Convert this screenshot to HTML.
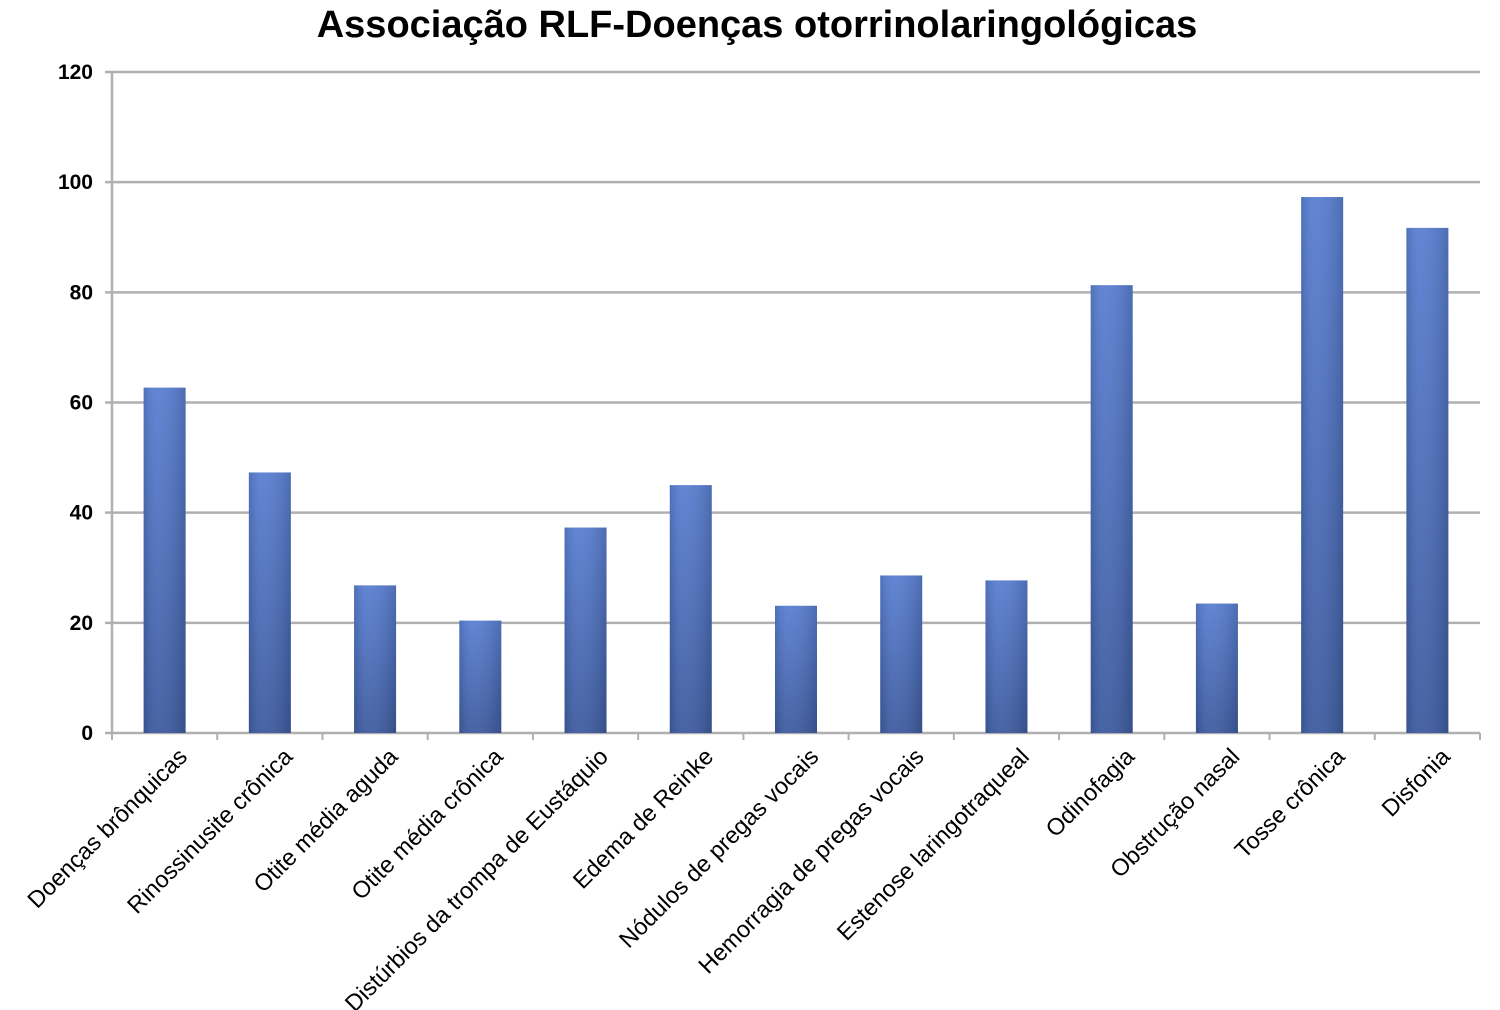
<!DOCTYPE html>
<html><head><meta charset="utf-8"><style>
body{margin:0;background:#fff;}
svg{display:block;font-family:"Liberation Sans",sans-serif;}
</style></head><body>
<svg id="chart" width="1500" height="1010" viewBox="0 0 1500 1010">
<defs><linearGradient id="g" x1="0" y1="0" x2="0" y2="1"><stop offset="0" stop-color="#5a7fd2"/><stop offset="1" stop-color="#3e5ca0"/></linearGradient>
<linearGradient id="gh" x1="0" y1="0" x2="1" y2="0"><stop offset="0" stop-color="#000" stop-opacity="0.12"/><stop offset="0.3" stop-color="#fff" stop-opacity="0.05"/><stop offset="1" stop-color="#000" stop-opacity="0.15"/></linearGradient></defs>
<text x="757" y="37" text-anchor="middle" font-size="38" font-weight="bold">Associação RLF-Doenças otorrinolaringológicas</text>
<g id="grid"></g><g id="bars"></g><g id="labels"></g>
</svg>
<script>
const categories=["Doenças brônquicas","Rinossinusite crônica","Otite média aguda","Otite média crônica","Distúrbios da trompa de Eustáquio","Edema de Reinke","Nódulos de pregas vocais","Hemorragia de pregas vocais","Estenose laringotraqueal","Odinofagia","Obstrução nasal","Tosse crônica","Disfonia"];
const values=[62.7,47.3,26.8,20.4,37.3,45,23.1,28.6,27.7,81.3,23.5,97.3,91.7];
const yTicks=[0,20,40,60,80,100,120];
const NS="http://www.w3.org/2000/svg";
const x0=112,x1=1480,y0=733,yTop=72,yMax=120;
const band=(x1-x0)/categories.length;
const y=v=>y0-(v/yMax)*(y0-yTop);
function mk(t,a,p){const e=document.createElementNS(NS,t);for(const k in a)e.setAttribute(k,a[k]);p.appendChild(e);return e;}
const grid=document.getElementById('grid'),bars=document.getElementById('bars'),labels=document.getElementById('labels');
yTicks.forEach(t=>{
 const l=mk('line',{x1:x0-7,x2:x1,y1:y(t),y2:y(t),stroke:'#b0b0b0','stroke-width':2.5},grid);
 
 
 const tx=mk('text',{x:93,y:y(t)+7,'text-anchor':'end','font-size':21,'font-weight':'bold'},grid);
 tx.textContent=t;
 
 
});
mk('line',{x1:x0,x2:x0,y1:yTop,y2:y0,stroke:'#b0b0b0','stroke-width':2.5},grid);
for(let i=0;i<=categories.length;i++){mk('line',{x1:x0+i*band,x2:x0+i*band,y1:y0,y2:y0+7,stroke:'#b0b0b0','stroke-width':2},grid);}
categories.forEach((c,i)=>{
 const cx=x0+band*(i+0.5),w=42;
 const r=mk('rect',{x:cx-w/2,y:y(values[i]),width:w,height:y0-y(values[i]),fill:'url(#g)'},bars);
 
 
 mk('rect',{x:cx-w/2,y:y(values[i]),width:w,height:y0-y(values[i]),fill:'url(#gh)'},bars);
 const tx=mk('text',{x:0,y:0,'text-anchor':'end','font-size':23.5,transform:`translate(${cx+24},${y0+25}) rotate(-45)`},labels);
 tx.textContent=c;
 
 
});
</script>
</body></html>
